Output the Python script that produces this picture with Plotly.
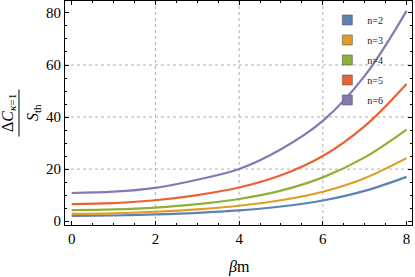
import plotly.graph_objects as go

beta = [0, 1, 2, 3, 4, 5, 6, 7, 8]
n2 = [2.0, 2.15, 2.55, 3.15, 4.1, 5.6, 7.9, 11.6, 17.0]
n3 = [2.8, 3.0, 3.6, 4.5, 5.9, 8.0, 11.3, 16.5, 24.2]
n4 = [4.2, 4.5, 5.2, 6.5, 8.5, 11.7, 16.8, 24.5, 35.2]
n5 = [6.5, 6.9, 8.0, 10.0, 12.9, 17.6, 25.0, 36.5, 52.7]
n6 = [10.8, 11.3, 12.8, 15.9, 20.0, 27.6, 38.5, 55.8, 80.8]
names = ["n=2", "n=3", "n=4", "n=5", "n=6"]
series = [n2, n3, n4, n5, n6]
colors = ["#5E81B5", "#E19C24", "#8FB032", "#EB6235", "#8778B3"]
x_ticks = [0, 2, 4, 6, 8]
y_ticks = [0, 20, 40, 60, 80]
grid_x = [2, 4, 6]
grid_y = [20, 40, 60]

SERIF = "Liberation Serif, Times New Roman, DejaVu Serif, serif"

fig = go.Figure()
for nm, ys, c in zip(names, series, colors):
    fig.add_trace(go.Scatter(x=beta, y=ys, mode="lines", line=dict(color=c, width=2.2, shape="spline"),
                             showlegend=False, hoverinfo="skip"))
for nm, c in zip(names, colors):
    fig.add_trace(go.Scatter(x=[None], y=[None], mode="markers", name=nm, legendgroup=nm,
                             marker=dict(symbol="square", size=10, color=c,
                                         line=dict(color="rgba(90,90,90,0.6)", width=1))))

shapes = []
for g in grid_x:
    shapes.append(dict(type="line", xref="x", yref="paper", x0=g, x1=g, y0=0, y1=1,
                       line=dict(color="#b0b0b0", width=1, dash="dot"), layer="below"))
for g in grid_y:
    shapes.append(dict(type="line", xref="paper", yref="y", x0=0, x1=1, y0=g, y1=g,
                       line=dict(color="#b0b0b0", width=1, dash="dot"), layer="below"))
# fraction bar of the y title
shapes.append(dict(type="line", xref="paper", yref="paper", x0=-0.1326, x1=-0.1326, y0=0.395, y1=0.605,
                   line=dict(color="black", width=1)))

axis_common = dict(showline=True, linecolor="black", linewidth=1.2, mirror="allticks",
                   ticks="inside", ticklen=4, tickcolor="black", showgrid=False, zeroline=False,
                   tickfont=dict(family=SERIF, size=15, color="black"))

fig.update_layout(
    width=415, height=277,
    margin=dict(l=65, r=3, t=1, b=52),
    paper_bgcolor="white", plot_bgcolor="white",
    xaxis=dict(range=[-0.16, 8.13], tickvals=x_ticks,
               minor=dict(dtick=0.5, ticklen=2, ticks="inside", tickcolor="black"), **axis_common),
    yaxis=dict(range=[-1.5, 84.6], tickvals=y_ticks,
               minor=dict(dtick=5, ticklen=2, ticks="inside", tickcolor="black"), **axis_common),
    shapes=shapes,
    legend=dict(x=0.756, y=0.98, xanchor="left", yanchor="top", bgcolor="rgba(0,0,0,0)",
                font=dict(family=SERIF, size=10, color="#222"), tracegroupgap=1,
                itemsizing="trace"),
    annotations=[
        dict(text="<i>β</i>m", xref="paper", yref="paper", x=0.5, y=0, yshift=-42,
             xanchor="center", yanchor="middle", showarrow=False,
             font=dict(family=SERIF, size=16, color="black")),
        dict(text="Δ<i>C</i><sub><i>κ</i>=1</sub>", xref="paper", yref="paper", x=0, y=0.5,
             xshift=-57, xanchor="center", yanchor="middle", textangle=-90, showarrow=False,
             font=dict(family=SERIF, size=16, color="black")),
        dict(text="<i>S</i><sub>th</sub>", xref="paper", yref="paper", x=0, y=0.5,
             xshift=-32, xanchor="center", yanchor="middle", textangle=-90, showarrow=False,
             font=dict(family=SERIF, size=16, color="black")),
    ],
)

fig.write_html("out.html", config={"displayModeBar": False},
               post_script="document.body.style.margin='0';")
